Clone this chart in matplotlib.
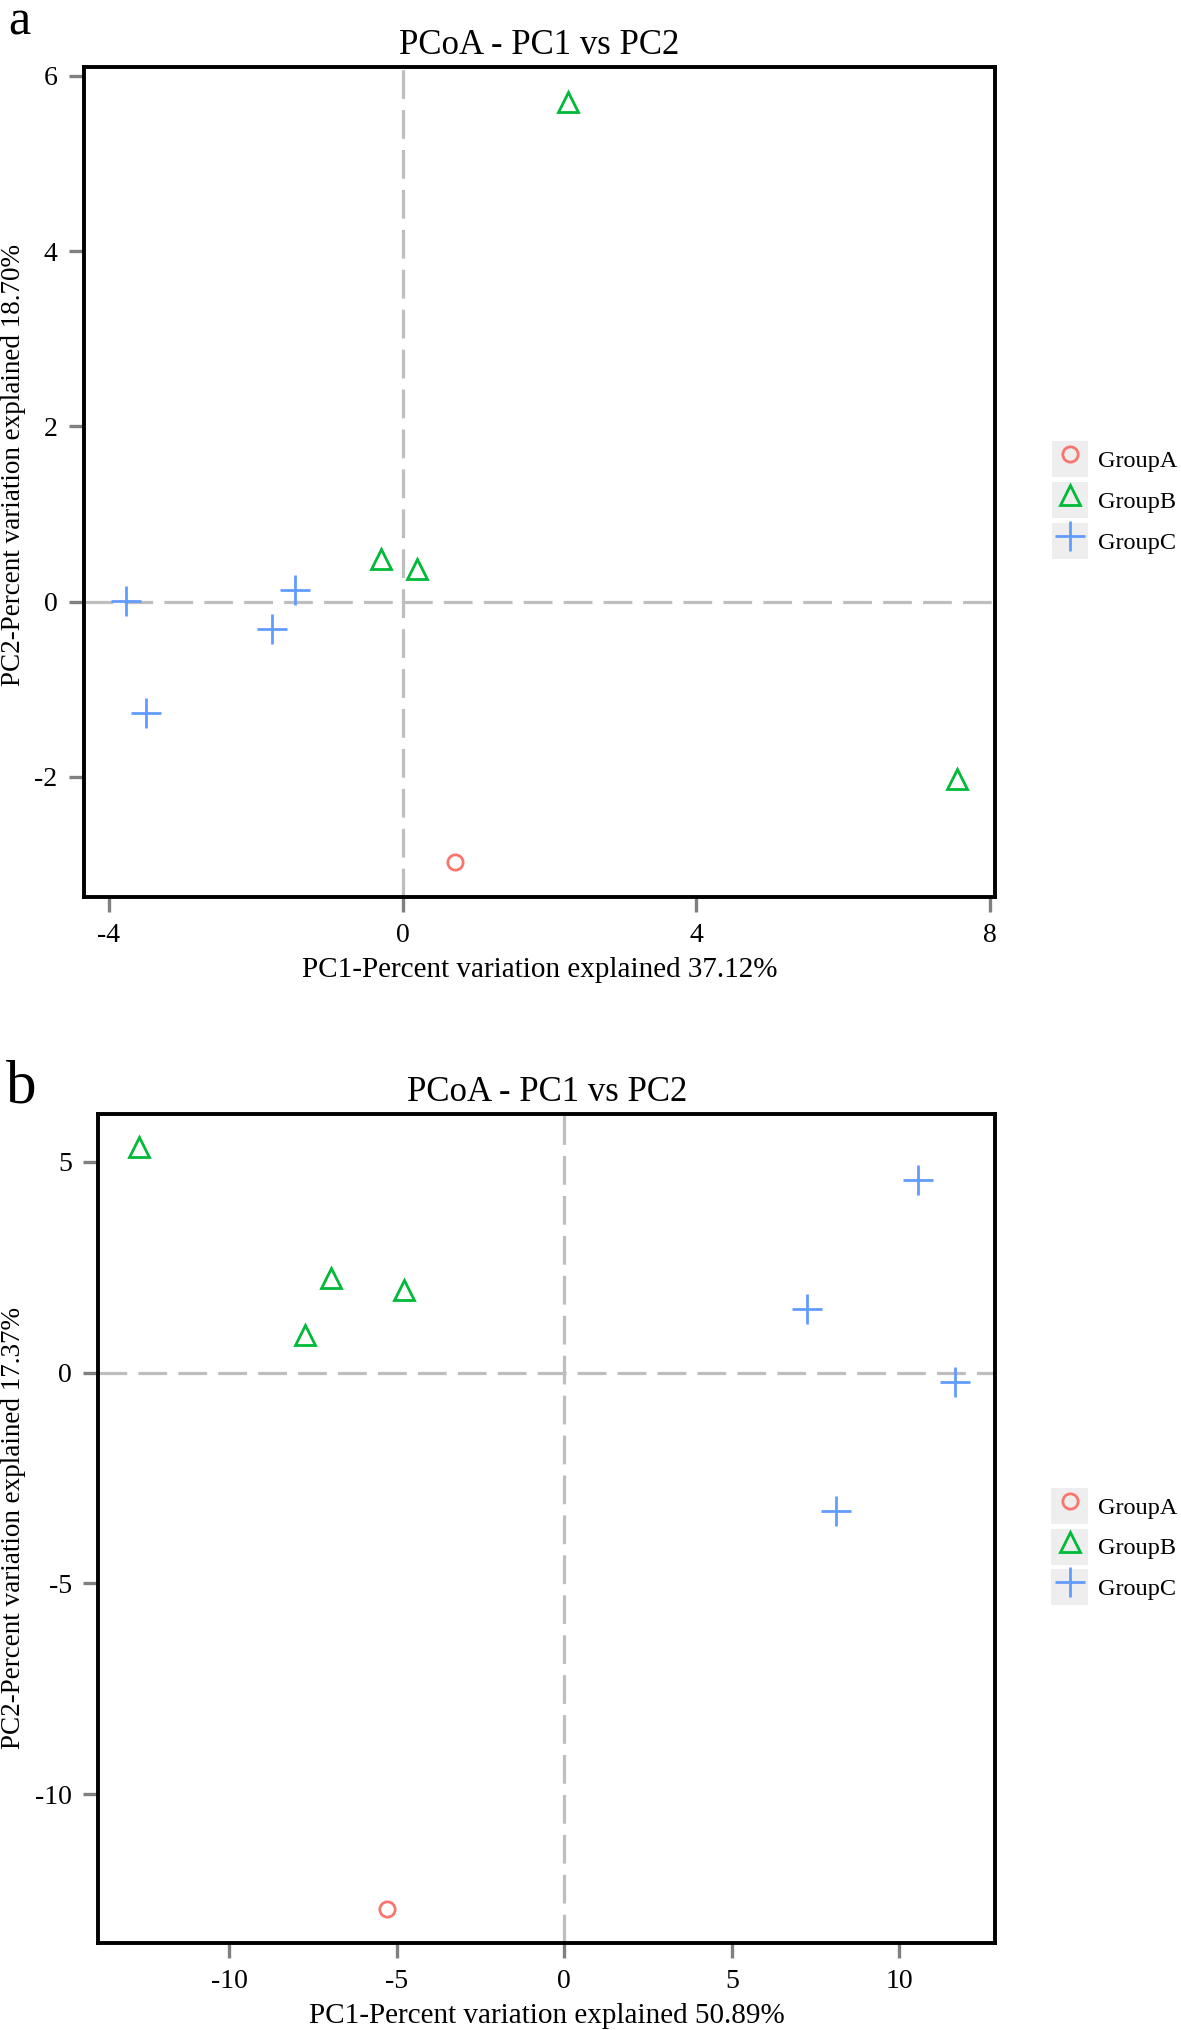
import matplotlib
matplotlib.use("Agg")
import matplotlib.pyplot as plt
from matplotlib.legend_handler import HandlerLine2D
from matplotlib.lines import Line2D
from matplotlib.patches import Rectangle

plt.rcParams["font.family"] = ["Liberation Serif", "DejaVu Serif"]
plt.rcParams["axes.unicode_minus"] = False

groups = ["GroupA", "GroupB", "GroupC"]
colors = ["#F8766D", "#00BA38", "#619CFF"]
markers = ["o", "^", "+"]
msizes = [11, 14, 21]

# panel a
a_x = {"GroupA": [0.72],
       "GroupB": [2.26, -0.30, 0.19, 7.55],
       "GroupC": [-3.77, -3.49, -1.78, -1.46]}
a_y = {"GroupA": [-2.97],
       "GroupB": [5.70, 0.49, 0.37, -2.02],
       "GroupC": [0.01, -1.27, -0.31, 0.13]}
a_xlabel = "PC1-Percent variation explained 37.12%"
a_ylabel = "PC2-Percent variation explained 18.70%"
a_xticks = [-4, 0, 4, 8]
a_yticks = [-2, 0, 2, 4, 6]

# panel b
b_x = {"GroupA": [-5.30],
       "GroupB": [-12.68, -6.96, -7.73, -4.79],
       "GroupC": [10.55, 7.23, 11.67, 8.12]}
b_y = {"GroupA": [-12.73],
       "GroupB": [5.35, 2.24, 0.89, 1.97],
       "GroupC": [4.58, 1.51, -0.22, -3.29]}
b_xlabel = "PC1-Percent variation explained 50.89%"
b_ylabel = "PC2-Percent variation explained 17.37%"
b_xticks = [-10, -5, 0, 5, 10]
b_yticks = [-10, -5, 0, 5]

title = "PCoA - PC1 vs PC2"


class KeyHandler(HandlerLine2D):
    """legend key with a light grey square behind the marker"""
    def create_artists(self, legend, orig_handle, xdescent, ydescent,
                       width, height, fontsize, trans):
        bg = Rectangle((-xdescent, -ydescent), width, height,
                       facecolor="#EEEEEE", edgecolor="none", transform=trans)
        arts = super().create_artists(legend, orig_handle, xdescent, ydescent,
                                      width, height, fontsize, trans)
        return [bg] + list(arts)


def draw_panel(ax, xs, ys, xlim, ylim, xticks, yticks, xlabel, ylabel,
               ylab_x, ylab_y):
    ax.axhline(0, color="#BEBEBE", lw=2.3, dashes=(9, 3.5), zorder=1)
    ax.axvline(0, color="#BEBEBE", lw=2.3, dashes=(9, 3.5), zorder=1)
    handles = []
    for g, c, m, s in zip(groups, colors, markers, msizes):
        mfc = "none" if m != "+" else c
        ax.plot(xs[g], ys[g], linestyle="none", marker=m, ms=s, mfc=mfc,
                mec=c, mew=2.0, zorder=3)
        handles.append(Line2D([], [], linestyle="none", marker=m, ms=s,
                              mfc=mfc, mec=c, mew=2.0))
    ax.set_xlim(*xlim)
    ax.set_ylim(*ylim)
    ax.set_xticks(xticks)
    ax.set_yticks(yticks)
    ax.tick_params(direction="out", length=11, width=2.4, color="#808080",
                   labelsize=20, pad=8)
    for sp in ax.spines.values():
        sp.set_linewidth(2.8)
        sp.set_color("black")
    ax.set_title(title, fontsize=25, pad=9)
    ax.set_xlabel(xlabel, fontsize=21)
    ax.set_ylabel(ylabel, fontsize=19.5)
    ax.xaxis.set_label_coords(0.5, -0.072)
    ax.yaxis.set_label_coords(ylab_x, ylab_y)
    ax.legend(handles, groups, loc="center left", bbox_to_anchor=(1.0626, 0.478),
              frameon=False, fontsize=17.5, borderaxespad=0, borderpad=0,
              handlelength=1.5, handleheight=1.9, labelspacing=0.2,
              handletextpad=0.4, numpoints=1,
              handler_map={Line2D: KeyHandler()})


fig = plt.figure(figsize=(11.81, 20.30), dpi=100)
ax_a = fig.add_axes([0.0711, 0.5581, 0.7714, 0.4089])
ax_b = fig.add_axes([0.0833, 0.0429, 0.7595, 0.4084])

draw_panel(ax_a, a_x, a_y, (-4.34, 8.07), (-3.37, 6.10), a_xticks, a_yticks,
           a_xlabel, a_ylabel, -0.0637, 0.52)
draw_panel(ax_b, b_x, b_y, (-13.9, 12.86), (-13.53, 6.14), b_xticks, b_yticks,
           b_xlabel, b_ylabel, -0.0807, 0.5)

fig.text(0.007, 0.9828, "a", fontsize=36, va="baseline", ha="left")
fig.text(0.005, 0.4571, "b", fontsize=44, va="baseline", ha="left")

fig.savefig("out.png", dpi=100)
